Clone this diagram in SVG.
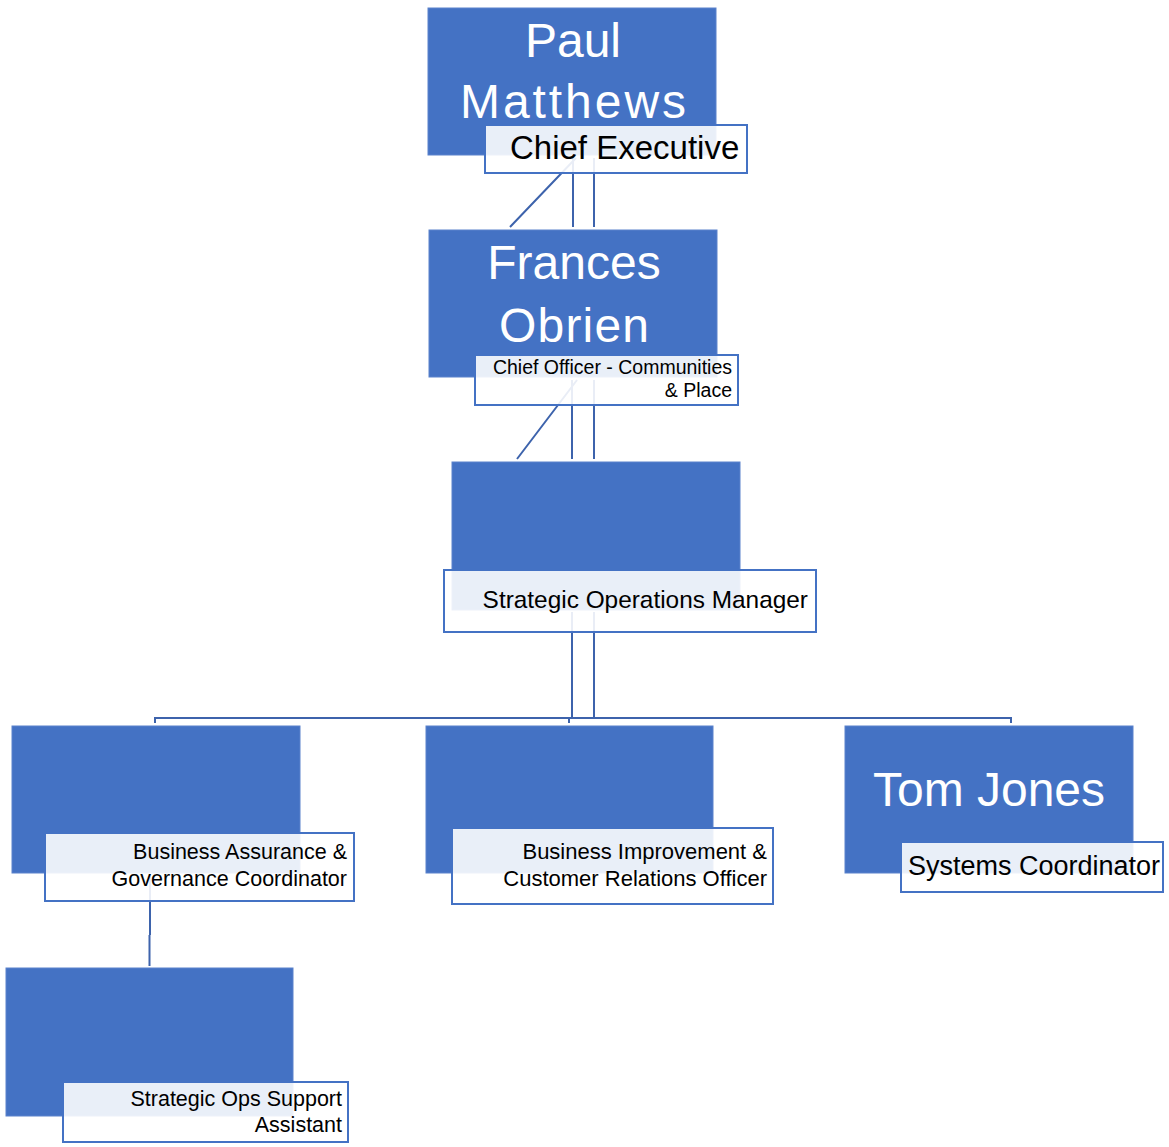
<svg xmlns="http://www.w3.org/2000/svg" width="1169" height="1147" viewBox="0 0 1169 1147">
<style>
.box{fill:#4472C4;stroke:#5B82CC;stroke-width:1}
.lbl{fill:#FFFFFF;fill-opacity:0.885;stroke:#4472C4;stroke-width:2}
.name{font-family:"Liberation Sans",Arial,sans-serif;font-size:48px;fill:#FFFFFF;text-anchor:middle}
.t{font-family:"Liberation Sans",Arial,sans-serif;fill:#000000}
.r{text-anchor:end}
.cn{fill:none;stroke:#3D63AC;stroke-width:2}
</style>
<rect width="1169" height="1147" fill="#FFFFFF"/>
<g id="connectors">
<path class="cn" d="M576,158 L510,227 M573,158 V227 M594,158 V227"/>
<path class="cn" d="M577,380 L517,459 M572,380 V459 M594,380 V459"/>
<path class="cn" d="M572,612 V718 M594,612 V718 M155,723 V718 H1011 V723 M569,718 V723"/>
<path class="cn" d="M150,875 V935 M149.5,935 V966"/>
</g>
<g id="paul-matthews">
<rect class="box" x="428" y="8" width="288" height="147"/>
<text class="name" x="573" y="57">Paul</text>
<text class="name" x="573" y="118" textLength="226">Matthews</text>
<rect class="lbl" x="485" y="125" width="262" height="48"/>
<text class="t" x="510" y="159" font-size="33">Chief Executive</text>
</g>
<g id="frances-obrien">
<rect class="box" x="429" y="230" width="288" height="147"/>
<text class="name" x="574" y="279">Frances</text>
<text class="name" x="574" y="342" textLength="150">Obrien</text>
<rect class="lbl" x="475" y="355" width="263" height="50"/>
<text class="t r" x="732" y="374" font-size="19.5">Chief Officer - Communities</text>
<text class="t r" x="732" y="397" font-size="19.5">&amp; Place</text>
</g>
<g id="strategic-operations-manager">
<rect class="box" x="452" y="462" width="288" height="148"/>
<rect class="lbl" x="444" y="570" width="372" height="62"/>
<text class="t r" x="808" y="608" font-size="24.4">Strategic Operations Manager</text>
</g>
<g id="business-assurance">
<rect class="box" x="12" y="726" width="288" height="147"/>
<rect class="lbl" x="45" y="833" width="309" height="68"/>
<text class="t r" x="347" y="859" font-size="21.5">Business Assurance &amp;</text>
<text class="t r" x="347" y="886" font-size="21.5">Governance Coordinator</text>
</g>
<g id="business-improvement">
<rect class="box" x="426" y="726" width="287" height="147"/>
<rect class="lbl" x="452" y="828" width="321" height="76"/>
<text class="t r" x="767" y="859" font-size="22">Business Improvement &amp;</text>
<text class="t r" x="767" y="886" font-size="22">Customer Relations Officer</text>
</g>
<g id="tom-jones">
<rect class="box" x="845" y="726" width="288" height="147"/>
<text class="name" x="989" y="806">Tom Jones</text>
<rect class="lbl" x="901" y="842" width="262" height="50"/>
<text class="t" x="908" y="875" font-size="27">Systems Coordinator</text>
</g>
<g id="strategic-ops-support">
<rect class="box" x="6" y="968" width="287" height="148"/>
<rect class="lbl" x="63" y="1082" width="285" height="60"/>
<text class="t r" x="342" y="1106" font-size="21.5">Strategic Ops Support</text>
<text class="t r" x="342" y="1132" font-size="21.5">Assistant</text>
</g>
</svg>
